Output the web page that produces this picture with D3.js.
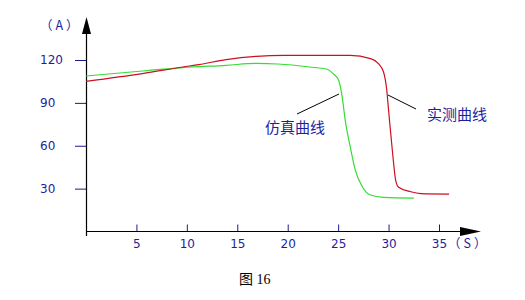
<!DOCTYPE html>
<html>
<head>
<meta charset="utf-8">
<script src="https://cdn.jsdelivr.net/npm/d3@7"></script>
<style>
  body { margin: 0; background: #fff; }
  svg { display: block; }
  .tick line { stroke: #1a1a8c; }
  .tick text { fill: #1e1ea0; font-family: "DejaVu Sans", sans-serif; font-size: 12px; }
</style>
</head>
<body>
<div id="chart"></div>
<script>
// measured curve (实测曲线): [time s, current A]
const measuredT = [0, 5.6, 9.6, 11.2, 13.9, 16.9, 19.6, 26.2, 28.2, 29.0, 29.5, 29.8, 30.0, 30.4, 30.7, 31.0, 32.2, 33.2, 36.0];
const measuredA = [105.1, 110.5, 115.1, 116.8, 120.3, 122.6, 123.3, 123.3, 121.0, 117.5, 111.6, 100.2, 84.9, 54.8, 36.0, 31.0, 27.8, 26.5, 26.2];

// simulated curve (仿真曲线)
const simT = [0, 5.6, 9.6, 13.9, 16.9, 19.0, 22.2, 23.9, 24.5, 25.05, 25.4, 25.7, 26.2, 26.7, 27.4, 28.2, 29.5, 32.5];
const simA = [108.8, 112.3, 114.7, 116.3, 117.6, 117.2, 115.1, 113.5, 110.5, 105.8, 94.2, 77.9, 59.2, 43.0, 31.3, 25.5, 23.9, 23.4];

const xTicks = [5, 10, 15, 20, 25, 30, 35];
const yTicks = [30, 60, 90, 120];

const width = 525, height = 300;
const svg = d3.select("#chart").append("svg")
  .attr("width", width)
  .attr("height", height);

const x = d3.scaleLinear().domain([0, 35]).range([86, 439]);
const y = d3.scaleLinear().domain([0, 120]).range([231.5, 60]);

// y axis ticks, labels left aligned
const yAxis = svg.append("g")
  .attr("transform", "translate(86,0)")
  .call(d3.axisLeft(y).tickValues(yTicks).tickSize(11));
yAxis.select(".domain").remove();
yAxis.selectAll(".tick text")
  .attr("x", -46)
  .attr("text-anchor", "start");

// x axis ticks point up, labels below
const xAxis = svg.append("g")
  .attr("transform", "translate(0,231.5)")
  .call(d3.axisBottom(x).tickValues(xTicks).tickSize(-7).tickPadding(8));
xAxis.select(".domain").remove();

// axis lines with arrows
svg.append("line").attr("x1", 86.5).attr("x2", 86.5).attr("y1", 236).attr("y2", 30)
  .attr("stroke", "#000").attr("stroke-width", 1.2);
svg.append("path").attr("d", "M86.5,17 L82,34 L91,34 Z").attr("fill", "#000");
svg.append("line").attr("x1", 86).attr("x2", 466).attr("y1", 231.5).attr("y2", 231.5)
  .attr("stroke", "#000").attr("stroke-width", 1.2);
svg.append("path").attr("d", "M481,231.5 L460,227 L460,236 Z").attr("fill", "#000");

// units
svg.append("text").attr("x", 40).attr("y", 30)
  .attr("fill", "#1e1ea0").attr("font-size", 12.5)
  .attr("letter-spacing", 3)
  .attr("font-family", "'Noto Sans CJK SC', sans-serif")
  .text("（A）");
svg.append("text").attr("x", 448).attr("y", 248)
  .attr("fill", "#1e1ea0").attr("font-size", 12.5)
  .attr("letter-spacing", 3)
  .attr("font-family", "'Noto Sans CJK SC', sans-serif")
  .text("（S）");

// curves
const line = d3.line()
  .x(d => x(d[0]))
  .y(d => y(d[1]))
  .curve(d3.curveMonotoneX);

svg.append("path")
  .datum(simT.map((t, i) => [t, simA[i]]))
  .attr("fill", "none")
  .attr("stroke", "#33dd33")
  .attr("stroke-width", 1.2)
  .attr("d", line);

svg.append("path")
  .datum(measuredT.map((t, i) => [t, measuredA[i]]))
  .attr("fill", "none")
  .attr("stroke", "#cc1020")
  .attr("stroke-width", 1.2)
  .attr("d", line);

// annotations
svg.append("line").attr("x1", 297).attr("y1", 114).attr("x2", 339).attr("y2", 94)
  .attr("stroke", "#000");
svg.append("line").attr("x1", 388).attr("y1", 95).attr("x2", 416).attr("y2", 109)
  .attr("stroke", "#000");

svg.append("text").attr("x", 265).attr("y", 133)
  .attr("fill", "#1e1ea0").attr("font-size", 15)
  .attr("font-family", "'Noto Sans CJK SC', sans-serif")
  .text("仿真曲线");
svg.append("text").attr("x", 427).attr("y", 120)
  .attr("fill", "#1e1ea0").attr("font-size", 15)
  .attr("font-family", "'Noto Sans CJK SC', sans-serif")
  .text("实测曲线");

// caption
svg.append("text").attr("x", 239).attr("y", 284)
  .attr("fill", "#000").attr("font-size", 14)
  .attr("font-family", "'Liberation Serif', 'Noto Sans CJK SC', serif")
  .text("图 16");
</script>
</body>
</html>
